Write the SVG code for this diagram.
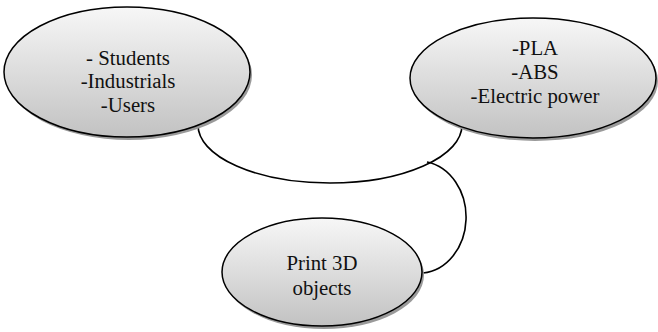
<svg xmlns="http://www.w3.org/2000/svg" width="658" height="332" viewBox="0 0 658 332">
<style>
.node{fill:url(#g);stroke:#000;stroke-width:1.5}
.shadow{fill:#9a9a9a}
.t{font-size:20.8px;fill:#111;text-anchor:middle}
.conn{fill:none;stroke:#000;stroke-width:1.6}
</style>
<defs>
<linearGradient id="g" x1="0" y1="0" x2="0" y2="1">
<stop offset="0" stop-color="#f7f7f7"/>
<stop offset="1" stop-color="#c2c2c2"/>
</linearGradient>
</defs>
<rect width="658" height="332" fill="#fff"/>
<g id="connectors">
<path class="conn" d="M198,125 A132,58 0 0,0 462,125"/>
<path class="conn" d="M427,162 A47,56 0 0,1 423,273"/>
</g>
<g font-family="Liberation Serif, DejaVu Serif, serif">
<g id="users">
<ellipse class="shadow" cx="129" cy="75" rx="123" ry="65"/>
<ellipse class="node" cx="127" cy="72" rx="123" ry="65"/>
<text class="t" x="128" y="65">- Students</text>
<text class="t" x="128" y="88">-Industrials</text>
<text class="t" x="128" y="112">-Users</text>
</g>
<g id="materials">
<ellipse class="shadow" cx="535" cy="81" rx="123" ry="60"/>
<ellipse class="node" cx="533" cy="78" rx="123" ry="60"/>
<text class="t" x="535" y="55">-PLA</text>
<text class="t" x="535" y="79">-ABS</text>
<text class="t" x="535" y="103">-Electric power</text>
</g>
<g id="print">
<ellipse class="shadow" cx="324" cy="275" rx="100" ry="54"/>
<ellipse class="node" cx="322" cy="272" rx="100" ry="54"/>
<text class="t" x="322" y="270">Print 3D</text>
<text class="t" x="322" y="295">objects</text>
</g>
</g>
</svg>
